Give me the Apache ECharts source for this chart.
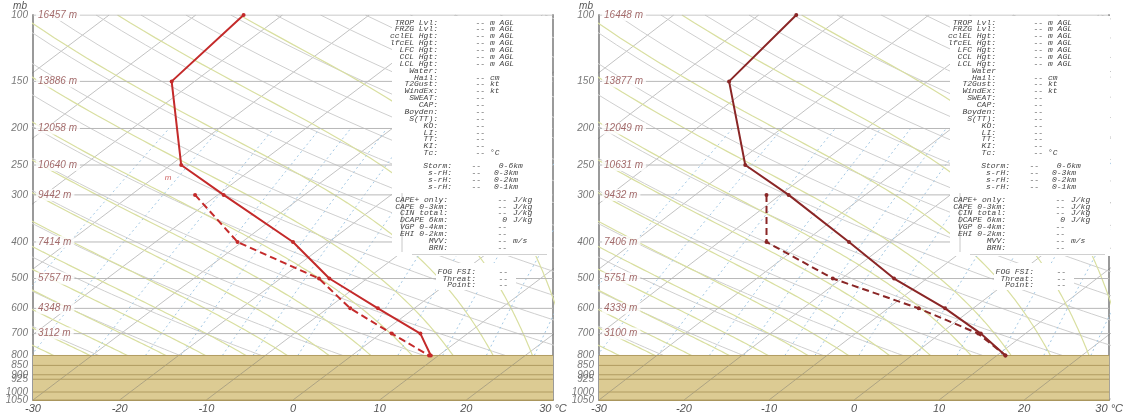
<!DOCTYPE html>
<html><head><meta charset="utf-8">
<script src="https://cdn.jsdelivr.net/npm/echarts@6/dist/echarts.min.js"></script>
<style>html,body{margin:0;padding:0;background:#fff}#c{width:1126px;height:415px}</style>
</head><body><div id="c"></div><script>
// ---------------- data ----------------
const xTickValues = [-30, -20, -10, 0, 10, 20, 30];
const isobarLevels = [100, 150, 200, 250, 300, 400, 500, 600, 700];
const groundLevels = [800, 850, 900, 925, 1000, 1050];
const pressureTickLabels = [100, 150, 200, 250, 300, 400, 500, 600, 700, 800, 850, 900, 925, 1000, 1050];
const leftHeights = [16457, 13886, 12058, 10640, 9442, 7414, 5757, 4348, 3112];
const rightHeights = [16448, 13877, 12049, 10631, 9432, 7406, 5751, 4339, 3100];

const leftTempP = [100, 150, 250, 300, 400, 500, 600, 700, 800];
const leftTemp = [-5.7, -14.0, -12.9, -8.0, 0.0, 4.2, 9.8, 14.7, 15.9];
const leftDewP = [300, 400, 500, 600, 700, 800];
const leftDew = [-11.3, -6.4, 3.0, 6.6, 11.4, 15.7];

const rightTempP = [100, 150, 250, 300, 400, 500, 600, 700, 800];
const rightTemp = [-6.8, -14.7, -12.8, -7.7, -0.6, 4.7, 10.7, 14.9, 17.8];
const rightDewP = [300, 400, 500, 600, 700, 800];
const rightDew = [-10.3, -10.3, -2.5, 7.6, 14.6, 17.8];

const leftStrayLabel = [[-14.4, 271]];
const leftStrayText = ['m'];

// guide-line families of the thermodynamic diagram
const isothermTemps = [-130, -120, -110, -100, -90, -80, -70, -60, -50, -40, -30, -20, -10, 0, 10, 20, 30];
const dryAdiabatThetas = [250, 260, 270, 280, 290, 300, 310, 320, 330, 340, 350, 360, 370, 380, 390, 400, 410, 420, 430, 440, 450, 460, 470];
const moistAdiabatThetaW = [-20, -16, -12, -8, -4, 0, 4, 8, 12, 16, 20, 24, 28, 32];
const mixingRatios = [0.1, 0.2, 0.4, 0.7, 1, 1.5, 2, 3, 5, 7, 10, 14, 20, 26];

// info panel texts
const infoBlock1 = [
  ['TROP Lvl:', '--', 'm AGL'], ['FRZG Lvl:', '--', 'm AGL'], ['cclEL Hgt:', '--', 'm AGL'],
  ['lfcEL Hgt:', '--', 'm AGL'], ['LFC Hgt:', '--', 'm AGL'], ['CCL Hgt:', '--', 'm AGL'],
  ['LCL Hgt:', '--', 'm AGL'], ['Water:', '', ''], ['Hail:', '--', 'cm'], ['T2Gust:', '--', 'kt'],
  ['WindEx:', '--', 'kt'], ['SWEAT:', '--', ''], ['CAP:', '--', ''], ['Boyden:', '--', ''],
  ['S(TT):', '--', ''], ['KO:', '--', ''], ['LI:', '--', ''], ['TT:', '--', ''], ['KI:', '--', ''],
  ['Tc:', '--', '°C']
];
const infoBlock2 = [['Storm:', '--', ' 0-6km'], ['s-rH:', '--', '0-3km'], ['s-rH:', '--', '0-2km'], ['s-rH:', '--', '0-1km']];
const infoBlock3 = [
  ['CAPE+ only:', '--', 'J/kg'], ['CAPE 0-3km:', '--', 'J/kg'], ['CIN total:', '--', 'J/kg'],
  ['DCAPE 6km:', '0', 'J/kg'], ['VGP 0-4km:', '--', ''], ['EHI 0-2km:', '--', ''],
  ['MVV:', '--', 'm/s'], ['BRN:', '--', '']
];
const infoBlock4 = [['FOG FSI:', '--'], ['Threat:', '--'], ['Point:', '--']];

// ---------------- diagram construction ----------------
const SKEW = 25, PREF = 1050;
const skewX = (Tc, p) => Tc + SKEW * Math.log(PREF / p);
const upperPs = []; for (let p = 800; p >= 100; p -= 10) upperPs.push(p);

function satVap(Tc) { return 6.112 * Math.exp(17.67 * Tc / (Tc + 243.5)); }
function moistLapse(Tk, p) {
  const Rd = 287.04, Cp = 1005.7, Lv = 2.501e6, eps = 0.622;
  const es = satVap(Tk - 273.15); const rs = eps * es / (p - es);
  return (Rd * Tk + Lv * rs) / (p * (Cp + Lv * Lv * rs * eps / (Rd * Tk * Tk)));
}
function moistCurve(thw) {
  let T = thw + 273.15, p = 1000; const pts = [];
  const dp = -5;
  while (p > 100) {
    const k1 = moistLapse(T, p);
    const k2 = moistLapse(T + k1 * dp, p + dp);
    T += 0.5 * (k1 + k2) * dp; p += dp;
    if (p <= 800) pts.push([skewX(T - 273.15, p), p]);
  }
  return pts;
}
function mixCurve(w) {
  const pts = [];
  for (let p = 800; p >= 200; p -= 20) {
    const e = w * p / (622 + w);
    const l = Math.log(e / 6.112);
    const T = 243.5 * l / (17.67 - l);
    pts.push([skewX(T, p), p]);
  }
  return pts;
}

const font = 'Liberation Sans';
function panelSeries(gi, tempP, temp, dewP, dew, heights, color, strayPts, strayTxt) {
  const base = { xAxisIndex: gi, yAxisIndex: gi * 2, animation: false, silent: true };
  const s = [];
  s.push(Object.assign({}, base, {
    type: 'line', data: [[-30, 1050]], showSymbol: false, lineStyle: { opacity: 0 }, z: 1,
    markArea: { silent: true, itemStyle: { color: '#dccb93' }, label: { show: false }, data: [[{ yAxis: 800 }, { yAxis: 1050 }]] }
  }));
  isothermTemps.forEach(T => s.push(Object.assign({}, base, {
    type: 'line', symbol: 'none', z: 2, data: [[skewX(T, 1050), 1050], [skewX(T, 100), 100]],
    lineStyle: { color: 'rgba(110,110,110,0.42)', width: 1 }
  })));
  dryAdiabatThetas.forEach(th => s.push(Object.assign({}, base, {
    type: 'line', symbol: 'none', z: 2,
    data: upperPs.map(p => [skewX(th * Math.pow(p / 1000, 0.2857) - 273.15, p), p]),
    lineStyle: { color: '#cfcfcf', width: 1 }
  })));
  moistAdiabatThetaW.forEach(t => s.push(Object.assign({}, base, {
    type: 'line', symbol: 'none', z: 2, data: moistCurve(t),
    lineStyle: { color: '#d9dfa0', width: 1.2 }
  })));
  mixingRatios.forEach(w => s.push(Object.assign({}, base, {
    type: 'line', symbol: 'none', z: 2, data: mixCurve(w),
    lineStyle: { color: '#a3c8e4', width: 1, type: [2, 3] }
  })));
  isobarLevels.forEach(p => s.push(Object.assign({}, base, {
    type: 'line', symbol: 'none', z: 3, data: [[-30, p], [30, p]],
    lineStyle: { color: '#b8b8b8', width: 1 }
  })));
  groundLevels.forEach(p => s.push(Object.assign({}, base, {
    type: 'line', symbol: 'none', z: 3, data: [[-30, p], [30, p]], clip: p !== 800,
    lineStyle: { color: '#b09b60', width: 1 }
  })));
  // pressure tick labels
  s.push(Object.assign({}, base, {
    type: 'scatter', clip: false, z: 4, symbolSize: 0.1, itemStyle: { color: 'rgba(0,0,0,0)' },
    data: pressureTickLabels.map(p => [-30, p]),
    label: { show: true, position: 'left', distance: 5, color: '#555', fontStyle: 'italic', fontSize: 10, fontFamily: font,
      formatter: d => String(d.value[1]) }
  }));
  // height labels
  s.push(Object.assign({}, base, {
    type: 'scatter', clip: false, z: 4, symbolSize: 0.1, itemStyle: { color: 'rgba(0,0,0,0)' },
    data: isobarLevels.map(p => [-30, p]),
    label: { show: true, position: 'right', distance: 3, color: '#8c4646', fontStyle: 'italic', fontSize: 10, fontFamily: font,
      backgroundColor: '#fff', padding: [1, 3, 1, 2], formatter: d => heights[d.dataIndex] + ' m' }
  }));
  if (strayPts) s.push(Object.assign({}, base, {
    type: 'scatter', z: 4, symbolSize: 0.1, itemStyle: { color: 'rgba(0,0,0,0)' }, data: strayPts,
    label: { show: true, position: 'inside', color: '#c03a3a', fontStyle: 'italic', fontSize: 8, fontFamily: font,
      formatter: d => strayTxt[d.dataIndex] }
  }));
  s.push(Object.assign({}, base, {
    type: 'line', z: 6, data: tempP.map((p, i) => [temp[i], p]), symbol: 'circle', symbolSize: 4, showSymbol: true,
    lineStyle: { color: color, width: 2 }, itemStyle: { color: color }
  }));
  s.push(Object.assign({}, base, {
    type: 'line', z: 6, data: dewP.map((p, i) => [dew[i], p]), symbol: 'circle', symbolSize: 4, showSymbol: true,
    lineStyle: { color: color, width: 2, type: [7, 4] }, itemStyle: { color: color }
  }));
  return s;
}

const gridDefs = [{ left: 33, top: 15, width: 520, height: 385 }, { left: 599, top: 15, width: 512, height: 385 }];

function infoGraphics(right) {
  const o = right - 553;
  const g = [];
  const tf = 'italic 8px "Liberation Mono", "DejaVu Sans Mono", monospace';
  const txt = (x, y, t, al) => ({ type: 'text', z: 101, x: x + o, y: y, silent: true,
    style: { text: t, fill: '#444', font: tf, align: al, textAlign: al, verticalAlign: 'middle', textVerticalAlign: 'middle' } });
  g.push({ type: 'rect', z: 100, silent: true, shape: { x: 392 + o, y: 16, width: 160, height: 240 }, style: { fill: '#fff' } });
  g.push({ type: 'rect', z: 100, silent: true, shape: { x: 436 + o, y: 263, width: 80, height: 27 }, style: { fill: '#fff' } });
  g.push({ type: 'line', z: 101, silent: true, shape: { x1: 402 + o, y1: 193, x2: 402 + o, y2: 252 }, style: { stroke: '#c8c8c8', lineWidth: 1 } });
  g.push({ type: 'line', z: 101, silent: true, shape: { x1: 412 + o, y1: 254.5, x2: 547 + o, y2: 254.5 }, style: { stroke: '#d0d0d0', lineWidth: 1 } });
  const b1 = right > 600 ? infoBlock1.map(r => r[0] === 'Water:' ? ['Water', '', ''] : r) : infoBlock1;
  b1.forEach((r, i) => { const y = 22.5 + i * 6.87; g.push(txt(438, y, r[0], 'right')); if (r[1]) g.push(txt(485, y, r[1], 'right')); if (r[2]) g.push(txt(490, y, r[2], 'left')); });
  infoBlock2.forEach((r, i) => { const y = 166 + i * 6.9; g.push(txt(452, y, r[0], 'right')); g.push(txt(481, y, r[1], 'right')); g.push(txt(494, y, r[2], 'left')); });
  infoBlock3.forEach((r, i) => { const y = 199.5 + i * 6.9; g.push(txt(448, y, r[0], 'right')); g.push(txt(507, y, r[1], 'right')); if (r[2]) g.push(txt(513, y, r[2], 'left')); });
  infoBlock4.forEach((r, i) => { const y = 271.5 + i * 6.9; g.push(txt(476, y, r[0], 'right')); g.push(txt(508, y, r[1], 'right')); });
  return g;
}

const chart = echarts.init(document.getElementById('c'), null, { renderer: 'canvas' });
const series = [].concat(
  panelSeries(0, leftTempP, leftTemp, leftDewP, leftDew, leftHeights, '#c42a2a', leftStrayLabel, leftStrayText),
  panelSeries(1, rightTempP, rightTemp, rightDewP, rightDew, rightHeights, '#8a2626', null, null)
);
const yAxes = [];
gridDefs.forEach((g, i) => {
  ['left', 'right'].forEach(pos => yAxes.push({
    gridIndex: i, type: 'log', logBase: 10, min: 100, max: 1050, inverse: true, position: pos,
    axisLine: { show: true, onZero: false, lineStyle: { color: '#9a9a9a', width: 2 } },
    axisTick: { show: false }, axisLabel: { show: false }, splitLine: { show: false }
  }));
});
chart.setOption({
  animation: false,
  backgroundColor: '#fff',
  textStyle: { fontFamily: font },
  grid: gridDefs,
  xAxis: gridDefs.map((g, i) => ({
    gridIndex: i, type: 'value', min: xTickValues[0], max: xTickValues[xTickValues.length - 1], interval: 10,
    axisLine: { show: true, onZero: false, lineStyle: { color: '#a8945c', width: 1 } }, axisTick: { show: false }, splitLine: { show: false },
    axisLabel: { margin: 3, color: '#555', fontStyle: 'italic', fontSize: 11, fontFamily: font,
      formatter: v => v === 30 ? '30 °C' : String(v) }
  })),
  yAxis: yAxes,
  series: series,
  graphic: [].concat(
    infoGraphics(553), infoGraphics(1111),
    [{ type: 'text', z: 101, x: 20, y: 6, style: { text: 'mb', fill: '#555', font: 'italic 10px "Liberation Sans"', align: 'center', textAlign: 'center', verticalAlign: 'middle', textVerticalAlign: 'middle' } },
     { type: 'text', z: 101, x: 586, y: 6, style: { text: 'mb', fill: '#555', font: 'italic 10px "Liberation Sans"', align: 'center', textAlign: 'center', verticalAlign: 'middle', textVerticalAlign: 'middle' } }]
  )
});
</script></body></html>
